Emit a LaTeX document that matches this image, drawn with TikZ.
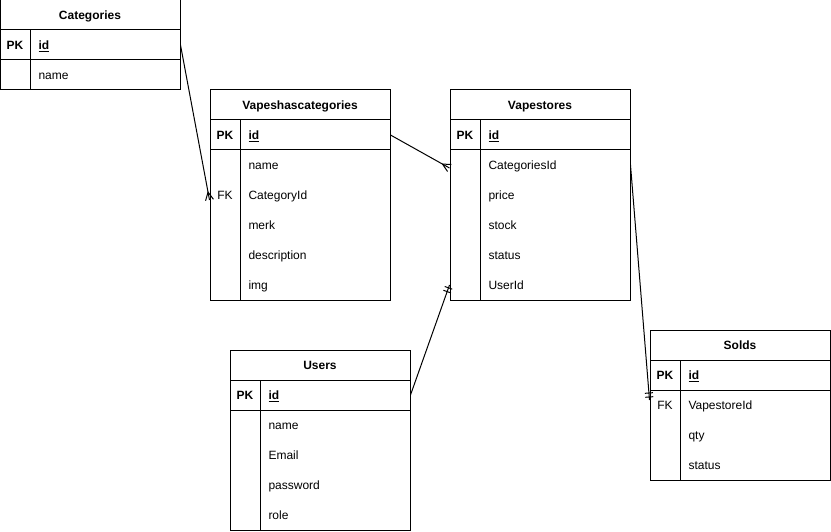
\documentclass[tikz,border=0pt]{standalone}
\usepackage{fontspec}
\setmainfont{Liberation Sans}
\usetikzlibrary{calc, decorations.markings}

% table: name, left x, top y, title, number of rows under PK
\newcommand{\ertab}[5]{%
	\node[hdr] (#1) at (#2+90,#3+15) {#4};
	\draw (#2,#3+30) rectangle (#2+180,#3+60+30*#5);
	\draw (#2,#3+60) -- (#2+180,#3+60) (#2+30,#3+30) -- (#2+30,#3+60+30*#5);
	\node[key,font=\fontsize{12pt}{14pt}\selectfont\bfseries] (#1-pk) at (#2+15,#3+45) {PK};
	\node[fld,font=\fontsize{12pt}{14pt}\selectfont\bfseries] (#1-id) at (#2+38,#3+45) {\underline{id}};
}

\begin{document}
\begin{tikzpicture}[x=1pt,y=-1pt,line width=1pt,
		font=\fontsize{12pt}{14pt}\selectfont,
		hdr/.style={draw,minimum width=180pt,minimum height=30pt,inner sep=0pt,text height=8.6pt,text depth=0pt,font=\fontsize{12pt}{14pt}\selectfont\bfseries},
		key/.style={inner sep=0pt,text height=8.6pt,text depth=0pt},
		fld/.style={key,anchor=west},
		many end/.style={postaction={decorate,decoration={markings,mark=at position 1 with {\draw (0pt,4pt) -- (-8pt,0pt) -- (0pt,-4pt);}}}},
		one end/.style={postaction={decorate,decoration={markings,mark=at position 1 with {\draw (-3pt,-4pt) -- (-3pt,4pt) (-7pt,-4pt) -- (-7pt,4pt);}}}}]
	\useasboundingbox (0,0) rectangle (831,532);

	\ertab{cat}{0}{0}{Categories}{1}
	\foreach \f [count=\i] in {name}
		\node[fld] (cat-\i) at (38,45+30*\i) {\f};

	\ertab{vhc}{210}{90}{Vapeshascategories}{5}
	\foreach \f [count=\i] in {name,CategoryId,merk,description,img}
		\node[fld] (vhc-\i) at (248,135+30*\i) {\f};
	\node[key] (vhc-fk) at (225,195) {FK};

	\ertab{vst}{450}{90}{Vapestores}{5}
	\foreach \f [count=\i] in {CategoriesId,price,stock,status,UserId}
		\node[fld] (vst-\i) at (488,135+30*\i) {\f};

	\ertab{usr}{230}{350}{Users}{4}
	\foreach \f [count=\i] in {name,Email,password,role}
		\node[fld] (usr-\i) at (268,395+30*\i) {\f};

	\ertab{sld}{650}{330}{Solds}{3}
	\foreach \f [count=\i] in {VapestoreId,qty,status}
		\node[fld] (sld-\i) at (688,375+30*\i) {\f};
	\node[key] (sld-fk) at (665,405) {FK};

	% relations
	\draw[many end] (cat-id -| cat.east) -- ($(vhc-2 -| vhc.west)+(0,5)$);
	\draw[many end] (vhc-id -| vhc.east) -- ($(vst-1 -| vst.west)+(0,3)$);
	\draw[one end] (usr-id -| usr.east) -- (vst-5 -| vst.west);
	\draw[one end] (vst-1 -| vst.east) -- ($(sld-1 -| sld.west)+(0,-5)$);
\end{tikzpicture}
\end{document}
